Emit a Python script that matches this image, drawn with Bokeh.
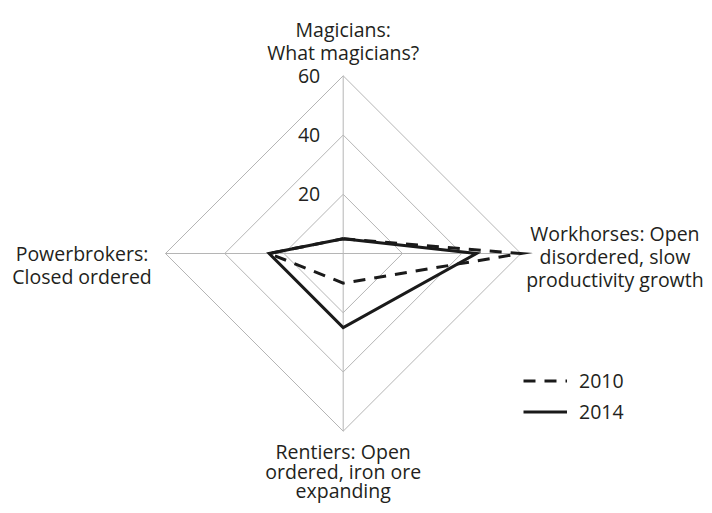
import numpy as np
from bokeh.plotting import figure
from bokeh.models import Range1d, Legend, LegendItem, ColumnDataSource
from bokeh.core.properties import value
from bokeh.embed import file_html
from bokeh.resources import INLINE

# ---- data ----
categories = ["Magicians", "Workhorses", "Rentiers", "Powerbrokers"]
label_lines = [
    ["Magicians:", "What magicians?"],
    ["Workhorses: Open", "disordered, slow", "productivity growth"],
    ["Rentiers: Open", "ordered, iron ore", "expanding"],
    ["Powerbrokers:", "Closed ordered"],
]
angles_deg = [90, 0, 270, 180]
series_names = ["2010", "2014"]
values_2010 = [5, 60, 10, 25]
values_2014 = [5, 45, 25, 25]
grid_levels = [20, 40, 60]
tick_labels = ["20", "40", "60"]
r_max = 60

# ---- layout ----
W, H = 704, 505
PX = 177.7 / r_max          # pixels per unit
cx, cy = 342.7, 253.0       # centre in figure pixels (from top-left)
FONT = "Open Sans"
TXT = "#231f20"
FS = "19.5px"

p = figure(width=W, height=H, output_backend="svg", toolbar_location=None,
           x_range=Range1d(-cx / PX, (W - cx) / PX),
           y_range=Range1d(-(H - cy) / PX, cy / PX),
           x_axis_location=None, y_axis_location=None, min_border=0,
           outline_line_color=None)
p.grid.visible = False

ang = np.radians(angles_deg)
cosv, sinv = np.cos(ang), np.sin(ang)

# grid diamonds
gx, gy = [], []
for lv in grid_levels:
    gx.append(list(lv * cosv) + [lv * cosv[0]])
    gy.append(list(lv * sinv) + [lv * sinv[0]])
p.multi_line(gx, gy, line_color="#b5b5b5", line_width=1)
# spokes
p.multi_line([[0, r_max * c] for c in cosv], [[0, r_max * s] for s in sinv],
             line_color="#b5b5b5", line_width=1)

# tick labels
p.text(x=[0] * len(grid_levels), y=grid_levels, text=tick_labels,
       x_offset=-23, text_align="right", text_baseline="middle",
       text_font=value(FONT), text_font_size=FS, text_color=TXT)

# series
def closed(vals):
    v = np.array(vals, dtype=float)
    xs = list(v * cosv) + [v[0] * cosv[0]]
    ys = list(v * sinv) + [v[0] * sinv[0]]
    return xs, ys

x10, y10 = closed(values_2010)
x14, y14 = closed(values_2014)
r10 = p.line(x10, y10, line_color="#1a1a1a", line_width=3, line_dash="12 9",
             line_join="miter")
r14 = p.line(x14, y14, line_color="#1a1a1a", line_width=3, line_join="miter")

# category labels (anchored at the outer vertex, offset in pixels)
label_offsets = [
    (0, [-46, -23]),
    (94, [-20, 3, 26]),
    (0, [20, 40, 59]),
    (-83.5, [0, 23]),
]
tx, ty, tt, xo, yo = [], [], [], [], []
for i, lines in enumerate(label_lines):
    dx, dys = label_offsets[i]
    for line, dy in zip(lines, dys):
        tx.append(r_max * cosv[i]); ty.append(r_max * sinv[i]); tt.append(line)
        xo.append(dx); yo.append(dy)
src = ColumnDataSource(dict(x=tx, y=ty, text=tt, xo=xo, yo=yo))
p.text(x="x", y="y", text="text", x_offset="xo", y_offset="yo", source=src,
       text_align="center", text_baseline="alphabetic",
       text_font=value(FONT), text_font_size=FS, text_color=TXT)

# legend
legend = Legend(items=[LegendItem(label=series_names[0], renderers=[r10]),
                       LegendItem(label=series_names[1], renderers=[r14])],
                location=(523, 80), padding=0, margin=0, spacing=4,
                glyph_width=44, glyph_height=27, label_height=27,
                label_standoff=12, border_line_alpha=0,
                background_fill_alpha=0,
                label_text_font=FONT, label_text_font_size=FS,
                label_text_color=TXT)
p.add_layout(legend)

open("out.html", "w").write(file_html(p, INLINE))
